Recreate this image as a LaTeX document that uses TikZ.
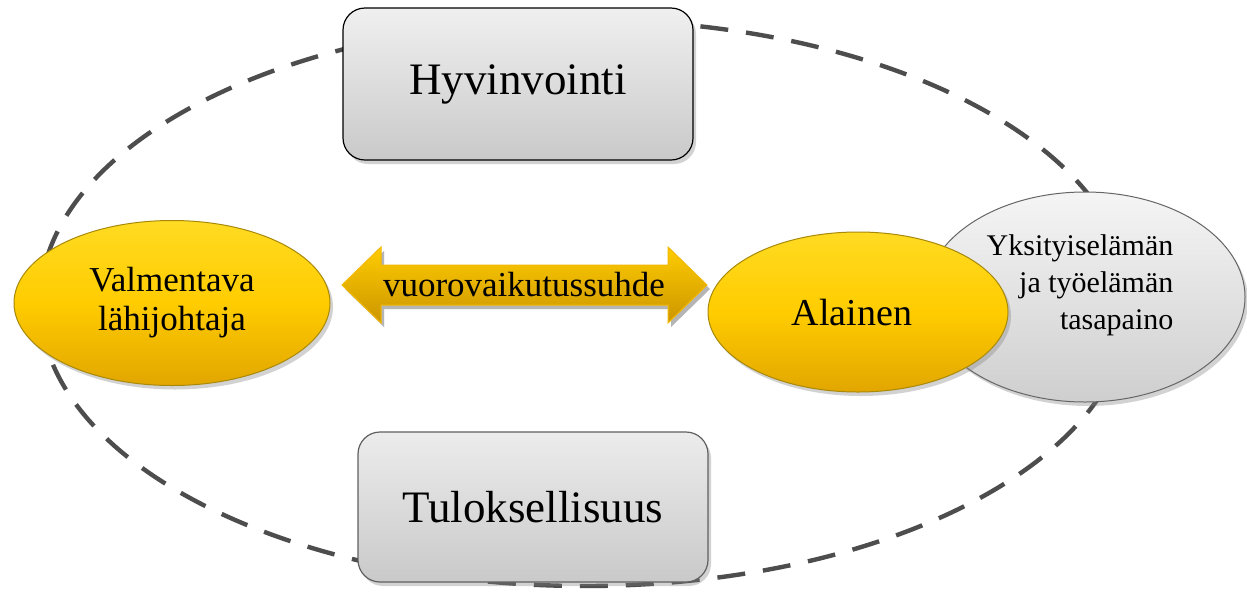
\documentclass[tikz,border=0pt]{standalone}
\usepackage{fontspec}
\setmainfont{Liberation Serif}
\usetikzlibrary{shapes.geometric,shadows}
\definecolor{dashgray}{HTML}{4D4D4D}
\definecolor{goldtop}{HTML}{FFDB22}
\definecolor{goldmid}{HTML}{FFCC00}
\definecolor{goldbot}{HTML}{E2A600}
\definecolor{goldline}{HTML}{A8890A}
\definecolor{arrowline}{HTML}{F2B800}
\tikzset{
  shade/.style={drop shadow={opacity=0.35,shadow xshift=3pt,shadow yshift=-4pt}},
  graybox/.style={rectangle,rounded corners=22pt,minimum width=350pt,minimum height=152pt,
    top color=#1,bottom color=gray!42,shade,font=\fontsize{45}{54}\selectfont},
  goldell/.style={ellipse,inner sep=0pt,top color=goldtop,bottom color=goldbot,
    middle color=goldmid,draw=goldline,line width=1pt,shade},
}
\begin{document}
\begin{tikzpicture}[x=1pt,y=-1pt]
\useasboundingbox[fill=white] (0,0) rectangle (1247,598);
% dashed ellipse
\draw[dashgray,line width=4.4pt,dash pattern=on 28pt off 18pt] (585,303) ellipse [x radius=545,y radius=283];
% boxes
\node[graybox=gray!12,draw=black,line width=1.2pt] (hyv) at (518,84) {Hyvinvointi};
\node[graybox=gray!15,draw=gray!75!black,line width=1.2pt,minimum height=150pt] (tul) at (533,507) {Tuloksellisuus};
% gray ellipse
\node[ellipse,inner sep=0pt,minimum width=320pt,minimum height=210pt,top color=gray!8,bottom color=gray!38,
  draw=gray!80!black,line width=1pt,shade] (tas) at (1085,297) {};
\node[align=right,font=\fontsize{30}{37}\selectfont,inner sep=0pt] (tasT) at (1080,285)
  {Yksityiselämän\\ja työelämän\\tasapaino};
% gold ellipses
\node[goldell,minimum width=316pt,minimum height=165pt,align=center,font=\fontsize{35}{39}\selectfont] (val) at (172,303) {Valmentava\\lähijohtaja};
\node[goldell,minimum width=300pt,minimum height=160pt,font=\fontsize{38}{40}\selectfont] (ala) at (858,312) {\hspace*{-12pt}Alainen};
% double arrow
\shadedraw[top color=goldmid,bottom color=goldbot!90!black,draw=arrowline,line width=1pt,shade]
  (342,285) -- (381,247) -- (381,265) -- (668,265) -- (668,247) -- (707,285)
  -- (668,323) -- (668,305) -- (381,305) -- (381,323) -- cycle;
\node[font=\fontsize{35}{40}\selectfont] (vuo) at (524,285) {vuorovaikutussuhde};
\end{tikzpicture}
\end{document}
